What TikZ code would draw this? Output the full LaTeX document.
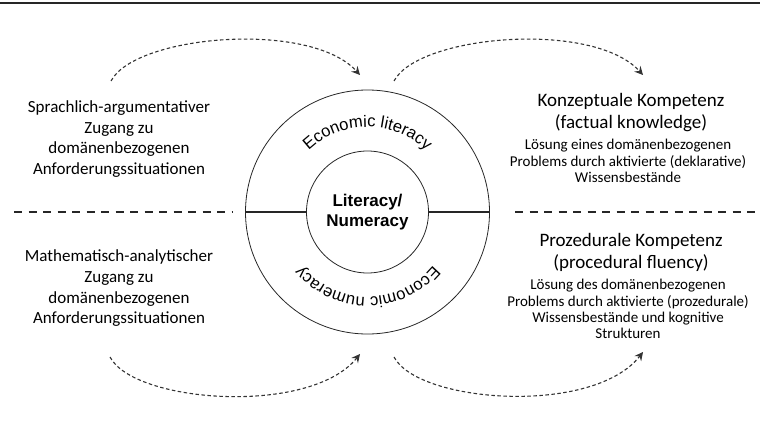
\documentclass[tikz,border=0pt]{standalone}
\usepackage{fontspec}
\setmainfont{Carlito}
\newfontfamily\arialfont{Liberation Sans}
\usetikzlibrary{decorations.text,arrows.meta}
\newcommand\ringfont{\arialfont\fontsize{16.6}{19}\selectfont}
\tikzset{
  conn/.style={draw=black!80, line width=1.1pt, dash pattern=on 3.5pt off 2.5pt,
    -{Stealth[length=8.5pt,width=8.5pt,inset=3pt]}},
  sepline/.style={draw=black!85, line width=1.6pt, dash pattern=on 8pt off 6.5pt},
  ring/.style={draw=black!85, circle, line width=0.8pt, inner sep=0pt},
  bar/.style={draw=black!85, line width=1.6pt},
  sidetext/.style={align=center, font=\fontsize{17}{20.7}\selectfont},
  titletext/.style={align=center, font=\fontsize{19}{21.7}\selectfont},
  desctext/.style={align=center, font=\fontsize{15}{16.3}\selectfont},
}
\begin{document}
\begin{tikzpicture}[x=1pt,y=1pt]
\useasboundingbox (0,0) rectangle (760,432);
% top rule
\coordinate (r1) at (0,428.5);
\coordinate (r2) at (760,428.5);
\draw[draw=black!85, line width=2pt] (r1) -- (r2);
% circles
\node[ring, minimum size=244pt] (outer) at (367.5,220) {};
\node[ring, minimum size=122pt, font=\arialfont\bfseries\fontsize{17}{20}\selectfont, align=center] (inner) at (367.5,220) {Literacy/\\Numeracy};
\draw[bar] (outer.west) -- (inner.west);
\draw[bar] (inner.east) -- (outer.east);
% ring texts
\path[decorate, decoration={text along path, text={|\ringfont|Economic literacy}, text align=center}]
  (293.89,262.5) arc[start angle=150, end angle=30, radius=85];
\path[decorate, decoration={text along path, text={|\ringfont|Economic numeracy}, text align=center}]
  (441.11,177.5) arc[start angle=-30, end angle=-150, radius=85];
% separators
\coordinate (sl1) at (14,220);
\coordinate (sl2) at (232,220);
\coordinate (sr1) at (515,220);
\coordinate (sr2) at (760,220);
\draw[sepline] (sl1) -- (sl2);
\draw[sepline] (sr1) -- (sr2);
% side texts
\node[sidetext] (sa) at (119,293) {Sprachlich-argumentativer\\Zugang zu\\domänenbezogenen\\Anforderungssituationen};
\node[sidetext] (ma) at (119,143.5) {Mathematisch-analytischer\\Zugang zu\\domänenbezogenen\\Anforderungssituationen};
\node[titletext] (kt) at (631,319.6) {Konzeptuale Kompetenz\\(factual knowledge)};
\node[desctext] (kd) at (628,271) {Lösung eines domänenbezogenen\\Problems durch aktivierte (deklarative)\\Wissensbestände};
\node[titletext] (pt) at (631,179.6) {Prozedurale Kompetenz\\(procedural fluency)};
\node[desctext] (pd) at (628,123) {Lösung des domänenbezogenen\\Problems durch aktivierte (prozedurale)\\Wissensbestände und kognitive\\Strukturen};
% connectors
\coordinate (a1s) at (111,351);
\coordinate (a1e) at (360,357);
\coordinate (a2s) at (394,351);
\coordinate (a2e) at (643,357);
\coordinate (a3s) at (110,75);
\coordinate (a3e) at (360,78);
\coordinate (a4s) at (394,75);
\coordinate (a4e) at (643,80);
\draw[conn] (a1s) .. controls (135,397) and (310,412) .. (a1e);
\draw[conn] (a2s) .. controls (418,397) and (593,412) .. (a2e);
\draw[conn] (a3s) .. controls (134,29) and (310,16) .. (a3e);
\draw[conn] (a4s) .. controls (418,29) and (593,16) .. (a4e);
\end{tikzpicture}
\end{document}
